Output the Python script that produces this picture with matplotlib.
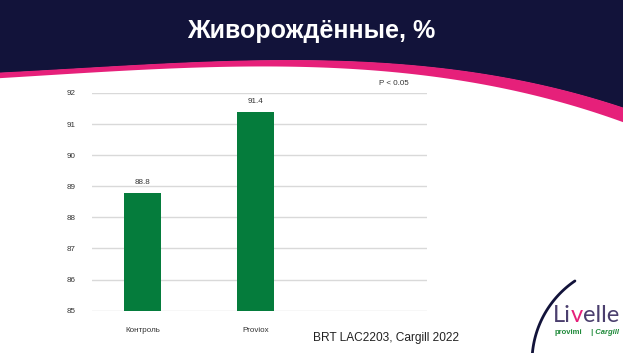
import numpy as np
import matplotlib
matplotlib.use("Agg")
import matplotlib.pyplot as plt

categories = ["Контроль", "Proviox", ""]
values = [88.8, 91.4]
yticks = [85, 86, 87, 88, 89, 90, 91, 92]
title = "Живорождённые, %"
note = "P < 0.05"
source = "BRT LAC2203, Cargill 2022"

NAVY = "#12133a"
PINK = "#e6207a"
GREEN = "#057c3c"
W, H = 623, 353

plt.rcParams['font.family'] = ['Liberation Sans', 'DejaVu Sans']
fig = plt.figure(figsize=(W / 100, H / 100), dpi=100)

# background decoration in pixel coordinates
bg = fig.add_axes([0, 0, 1, 1], zorder=-5)
bg.set_xlim(0, W)
bg.set_ylim(H, 0)
bg.axis("off")
px = np.array([0, 150, 300, 400, 500, 623])
top_edge = np.array([73, 65, 60, 65, 77, 108])
bot_edge = np.array([78, 70, 66, 73, 88, 122])
xs = np.linspace(0, W, 300)
ct = np.polyval(np.polyfit(px, top_edge, 3), xs)
cb = np.polyval(np.polyfit(px, bot_edge, 3), xs)
bg.fill_between(xs, 0, ct, color=NAVY, lw=0)
bg.fill_between(xs, ct - 0.5, cb, color=PINK, lw=0)
bg.text(W / 2, 31, title, color="white", fontsize=18, fontweight="bold",
        ha="center", va="center")

# arc bottom right
cx, cy, r = 630, 362, 98
th = np.linspace(np.arctan2(353 - cy, 532 - cx), np.arctan2(284 - cy, 577 - cx), 100)
bg.plot(cx + r * np.cos(th), cy + r * np.sin(th), color=NAVY, lw=2,
        solid_capstyle="round")
LOGO = "#4b3f6e"
t1 = bg.text(553, 322, "Li", color=LOGO, fontsize=17, family="Lato",
             va="baseline", ha="left")
t2 = bg.annotate("v", xy=(1, 0), xycoords=t1, color=PINK, fontsize=17,
                 family="Lato", va="bottom", ha="left")
t3 = bg.annotate("elle", xy=(1, 0), xycoords=t2, color=LOGO, fontsize=17,
                 family="Lato", va="bottom", ha="left")
bg.text(555, 333, "provimi", color="#1f8a3a", fontsize=5.5, fontweight="bold",
        va="center", ha="left")
bg.text(591, 333, "| Cargill", color="#1f8a3a", fontsize=5.5, fontstyle="italic",
        fontweight="bold", va="center", ha="left")
bg.text(313, 338, source, color="#222222", fontsize=8.6, va="center", ha="left")

# chart
ax = fig.add_axes([92 / W, (H - 310.7) / H, (427 - 92) / W, (310.7 - 93) / H])
x = np.arange(len(values))
ax.bar(x, values, width=0.326, color=GREEN, zorder=3)
for xi, v in zip(x, values):
    ax.text(xi, v + 0.2, f"{v}", ha="center", va="bottom", fontsize=5.8,
            color="#333333")
ax.set_ylim(yticks[0], yticks[-1])
ax.set_xlim(-0.445, 2.507)
ax.set_yticks(yticks)
ax.set_yticklabels([str(t) for t in yticks])
ax.set_xticks(np.arange(len(categories)))
ax.set_xticklabels(categories)
ax.tick_params(axis="both", length=0, labelsize=5.8, labelcolor="#333333")
ax.tick_params(axis="y", pad=12)
ax.tick_params(axis="x", pad=12)
ax.grid(axis="y", color="#d9d9d9", lw=1, zorder=0)
for s in ax.spines.values():
    s.set_visible(False)
ax.set_facecolor("none")
ax.text(2.216, 92.19, note, ha="center", va="bottom", fontsize=5.8,
        color="#333333", clip_on=False)

fig.savefig("out.png", dpi=100)
